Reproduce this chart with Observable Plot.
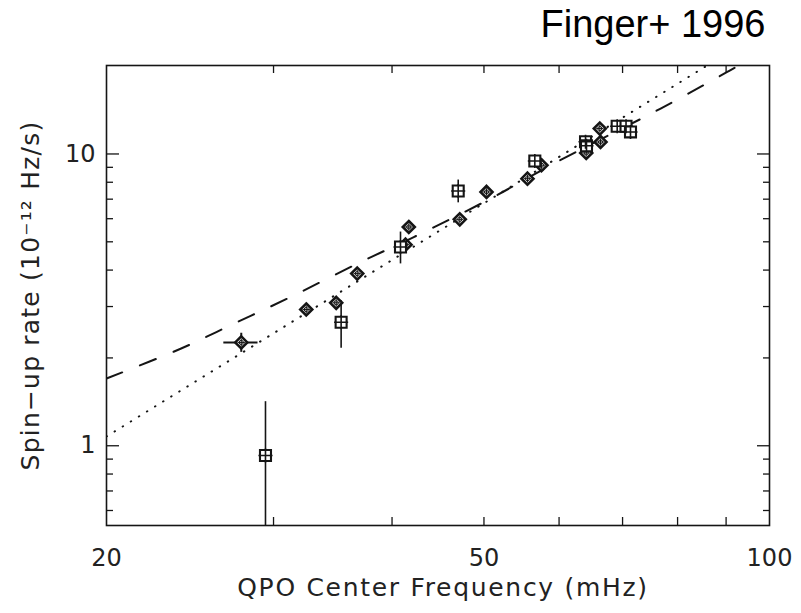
<!DOCTYPE html>
<html>
<head>
<meta charset="utf-8">
<script src="https://cdn.jsdelivr.net/npm/d3@7"></script>
<script src="https://cdn.jsdelivr.net/npm/@observablehq/plot@0.6"></script>
<style>
  html, body { margin: 0; padding: 0; background: #fff; }
</style>
</head>
<body>
<div id="chart"></div>
<script>
// ---- Data (x: QPO frequency mHz, y: spin-up rate 1e-12 Hz/s) ----
const diamondFreq    = [27.74, 32.48, 34.93, 36.76, 41.33, 41.66, 47.15, 50.31, 55.57, 57.49, 64.09, 66.24, 66.35];
const diamondRate    = [2.26,  2.93,  3.09,  3.89,  4.89,  5.62,  5.97,  7.41,  8.23,  9.15,  10.08, 12.22, 10.99];
const diamondFreqErr = [1.15,  0,     0,     0,     0,     0,     0,     0,     0,     0,     0,     0,     0];
const diamondRateErr = [0.17,  0,     0,     0,     0,     0,     0,     0,     0,     0,     0,     0,     0];

const squareFreq    = [29.42, 35.35, 40.83, 46.97, 56.57, 63.98, 64.13, 69.09, 70.59, 71.36];
const squareRate    = [0.926, 2.65,  4.80,  7.47,  9.46,  11.01, 10.67, 12.45, 12.45, 11.90];
const squareRateErr = [0.49,  0.49,  0.60,  0.67,  0,     0,     0,     0,     0,     0];

const dashedFreq = [20, 23.94, 27.24, 31.00, 37.06, 42.17, 50.8, 59.25, 76.77, 90.25, 93.0];
const dashedRate = [1.70, 2.15, 2.62, 3.19, 4.26, 5.19, 7.03, 9.27, 14.31, 19.1, 20.2];

const dottedFreq = [20, 49.6, 87.0];
const dottedRate = [1.076, 6.67, 20.6];

const xLabelTicks = [20, 50, 100];
const xMinorTicks = [30, 40, 50, 60, 70, 80, 90];
const yLabelTicks = [1, 10];
const yMinorTicks = [0.6, 0.7, 0.8, 0.9, 2, 3, 4, 5, 6, 7, 8, 9];

const titleText = "Finger+ 1996";
const xTitle = "QPO Center Frequency (mHz)";
const yTitle = "Spin\u2212up rate (10\u207B\u00B9\u00B2 Hz/s)";

// ---- Tables built from the arrays ----
const diamonds = diamondFreq.map((f, i) => ({f, v: diamondRate[i], fe: diamondFreqErr[i], ve: diamondRateErr[i]}));
const squares = squareFreq.map((f, i) => ({f, v: squareRate[i], ve: squareRateErr[i]}));
const dashed = dashedFreq.map((f, i) => ({f, v: dashedRate[i]}));
const dotted = dottedFreq.map((f, i) => ({f, v: dottedRate[i]}));

const ink = "#151515";
const textInk = "#222";
const labelFont = "DejaVu Sans";

const axisCommon = {tickFormat: () => "", label: null, stroke: ink, strokeWidth: 1.3};

const plot = Plot.plot({
  width: 801,
  height: 613,
  marginLeft: 106,
  marginRight: 32,
  marginTop: 65,
  marginBottom: 88,
  x: {type: "log", domain: [20, 100]},
  y: {type: "log", domain: [0.533, 20.1]},
  style: {background: "white", color: ink},
  marks: [
    // inward ticks
    Plot.axisX({...axisCommon, anchor: "bottom", ticks: xMinorTicks, tickSize: -8}),
    Plot.axisX({...axisCommon, anchor: "top", ticks: xMinorTicks, tickSize: -7}),
    Plot.axisY({...axisCommon, anchor: "left", ticks: yMinorTicks, tickSize: -7}),
    Plot.axisY({...axisCommon, anchor: "right", ticks: yMinorTicks, tickSize: -7}),
    Plot.axisY({...axisCommon, anchor: "left", ticks: yLabelTicks, tickSize: -13}),
    Plot.axisY({...axisCommon, anchor: "right", ticks: yLabelTicks, tickSize: -13}),
    Plot.frame({stroke: ink, strokeWidth: 1.6}),

    // model lines
    Plot.line(dashed, {x: "f", y: "v", stroke: ink, strokeWidth: 2, strokeDasharray: "17,19", curve: "catmull-rom", clip: true}),
    Plot.line(dotted, {x: "f", y: "v", stroke: ink, strokeWidth: 2, strokeDasharray: "0.5,9", strokeLinecap: "round", clip: true}),

    // error bars
    Plot.ruleX(squares.filter(d => d.ve > 0), {x: "f", y1: d => d.v - d.ve, y2: d => d.v + d.ve, stroke: ink, strokeWidth: 1.6, clip: true}),
    Plot.ruleX(diamonds.filter(d => d.ve > 0), {x: "f", y1: d => d.v - d.ve, y2: d => d.v + d.ve, stroke: ink, strokeWidth: 2, clip: true}),
    Plot.ruleY(diamonds.filter(d => d.fe > 0), {y: "v", x1: d => d.f - d.fe, x2: d => d.f + d.fe, stroke: ink, strokeWidth: 2, clip: true}),

    // diamond markers
    Plot.dot(diamonds, {x: "f", y: "v", symbol: "diamond2", r: 5.4, fill: "white", stroke: ink, strokeWidth: 2.6}),
    Plot.dot(diamonds, {x: "f", y: "v", symbol: "circle", r: 2.1, fill: "none", stroke: ink, strokeWidth: 1}),
    Plot.dot(diamonds, {x: "f", y: "v", symbol: "plus", r: 2.5, stroke: ink, strokeWidth: 1}),

    // square markers
    Plot.dot(squares, {x: "f", y: "v", symbol: "square2", r: 7, fill: "white", stroke: ink, strokeWidth: 2.1}),
    Plot.dot(squares, {x: "f", y: "v", symbol: "plus", r: 4.6, stroke: ink, strokeWidth: 1.6}),

    // tick labels
    Plot.text(xLabelTicks, {x: d => d, text: d => String(d), frameAnchor: "bottom", dy: 40, lineAnchor: "bottom",
      fontSize: 24, fontFamily: labelFont, fill: textInk}),
    Plot.text(yLabelTicks, {y: d => d, text: d => String(d), frameAnchor: "left", dx: -11, textAnchor: "end", lineAnchor: "middle",
      fontSize: 24, fontFamily: labelFont, fill: textInk}),

    // axis titles
    Plot.text([xTitle], {frameAnchor: "bottom", dy: 70, dx: 5, textAnchor: "middle", lineAnchor: "bottom", fontSize: 25,
      fontFamily: labelFont, fill: textInk}),
    Plot.text([yTitle], {frameAnchor: "left", dx: -76, rotate: -90, textAnchor: "middle", lineAnchor: "middle", fontSize: 25,
      fontFamily: labelFont, fill: textInk}),

    // chart title
    Plot.text([titleText], {frameAnchor: "top-right", dx: -4, dy: -29, textAnchor: "end", lineAnchor: "bottom",
      fontSize: 38, fontFamily: "Liberation Sans, Arial, sans-serif", fill: "#000"})
  ]
});

d3.select(plot).selectAll("text").filter(function() { return this.textContent === xTitle; }).attr("letter-spacing", 1.7);
d3.select(plot).selectAll("text").filter(function() { return this.textContent === yTitle; }).attr("letter-spacing", 1.2);

document.getElementById("chart").appendChild(plot);
</script>
</body>
</html>
